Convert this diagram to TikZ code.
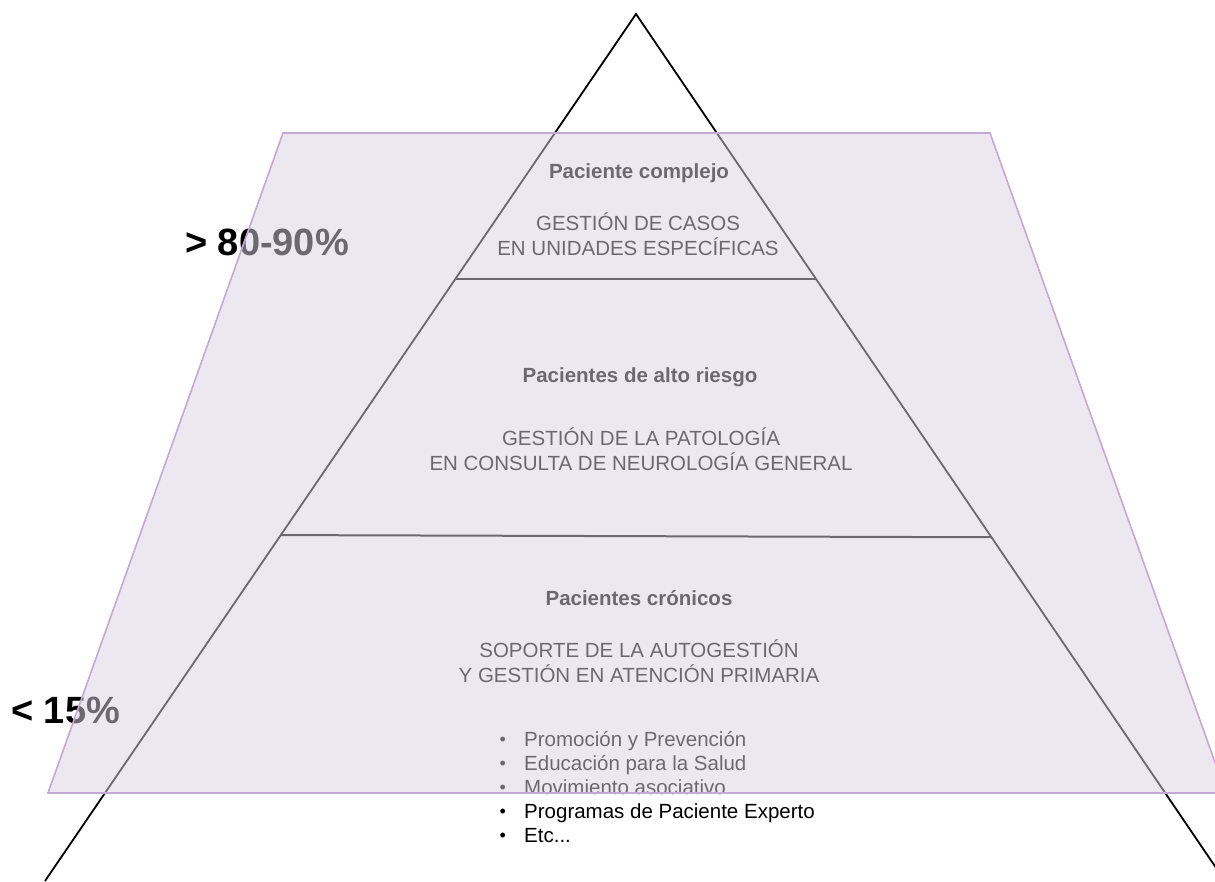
\documentclass[tikz,border=0pt]{standalone}
\usepackage{fontspec}
\setmainfont{Liberation Sans}
\usetikzlibrary{calc}
\definecolor{veil}{RGB}{220,207,224}
\definecolor{veiledge}{RGB}{196,168,214}
\newcommand{\dotmark}{\makebox[25pt][l]{\hspace*{0.5pt}\raisebox{0.8pt}{\fontsize{18}{18}\selectfont •}}}
\begin{document}
\begin{tikzpicture}[x=1pt,y=-1pt,
  side/.style={draw=black,line width=1.8pt},
  tier/.style={draw=black,line width=2pt},
  title/.style={font=\fontsize{20.5}{25}\selectfont\bfseries,anchor=base,inner sep=0pt},
  body/.style={font=\fontsize{20.5}{25}\selectfont,anchor=base,inner sep=0pt},
  share/.style={font=\fontsize{38}{44}\selectfont\bfseries,anchor=base west,inner sep=0pt},
  item/.style={font=\fontsize{20.5}{25}\selectfont,anchor=base west,inner sep=0pt},
  veilbox/.style={fill=veil,fill opacity=0.5,draw=veiledge,line width=1.6pt}]
\useasboundingbox (0,0) rectangle (1215,881);
\clip (0,0) rectangle (1215,881);

% pyramid outline
\coordinate (apex) at (636,14);
\coordinate (baseL) at (45,881);
\coordinate (baseR) at (1225,881);
\draw[side] (baseL) -- (apex) -- (baseR);

% tier boundaries
\coordinate (t1L) at ($(apex)!0.3057!(baseL)$);
\coordinate (t1R) at ($(apex)!0.3057!(baseR)$);
\coordinate (t2L) at ($(apex)!0.601!(baseL)$);
\coordinate (t2R) at ($(apex)!0.6035!(baseR)$);
\draw[tier] (t1L) -- (t1R);
\draw[tier] (t2L) -- (t2R);

% top tier
\node[title] (complejo) at (639,178) {Paciente complejo};
\node[body] (casos1) at (638,230) {GESTIÓN DE CASOS};
\node[body] (casos2) at (638,255) {EN UNIDADES ESPECÍFICAS};

% middle tier
\node[title] (riesgo) at (640,382) {Pacientes de alto riesgo};
\node[body] (pato1) at (641,445) {GESTIÓN DE LA PATOLOGÍA};
\node[body] (pato2) at (641,470) {EN CONSULTA DE NEUROLOGÍA GENERAL};

% bottom tier
\node[title] (cronicos) at (639,605) {Pacientes crónicos};
\node[body] (sop1) at (639,657) {SOPORTE DE LA AUTOGESTIÓN};
\node[body] (sop2) at (639,682) {Y GESTIÓN EN ATENCIÓN PRIMARIA};

\node[item] (b1) at (499,746) {\dotmark Promoción y Prevención};
\node[item] (b2) at (499,770) {\dotmark Educación para la Salud};
\node[item] (b3) at (499,794) {\dotmark Movimiento asociativo};
\node[item] (b4) at (499,818) {\dotmark Programas de Paciente Experto};
\node[item] (b5) at (499,842) {\dotmark Etc...};

% share labels
\node[share] (high) at (185,255) {> 80-90\%};
\node[share] (low) at (11,723) {< 15\%};

% translucent band laid over everything
\coordinate (vTL) at (283,133);
\coordinate (vTR) at (990,133);
\coordinate (vBR) at (1226,793);
\coordinate (vBL) at (48,793);
\draw[veilbox] (vTL) -- (vTR) -- (vBR) -- (vBL) -- cycle;
\end{tikzpicture}
\end{document}
